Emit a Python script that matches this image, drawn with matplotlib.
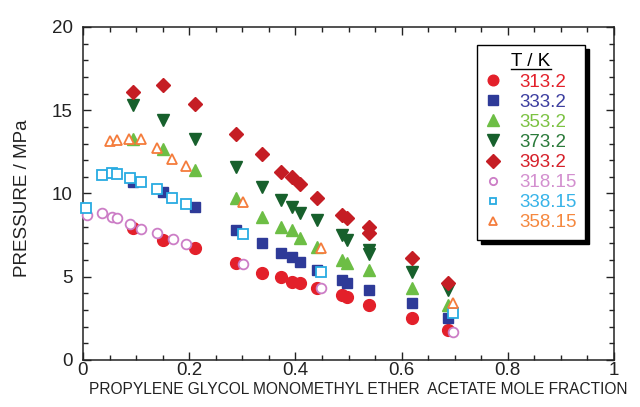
import matplotlib
matplotlib.use('Agg')
import matplotlib.pyplot as plt
from matplotlib.lines import Line2D
from matplotlib.ticker import MultipleLocator

plt.rcParams['font.family'] = ['Liberation Sans', 'DejaVu Sans']

# mole fraction of PGMEA and pressure / MPa
x_313_2 = [0.095, 0.151, 0.211, 0.289, 0.338, 0.373, 0.393, 0.409, 0.440, 0.487, 0.497, 0.539, 0.620, 0.688]
p_313_2 = [7.9, 7.2, 6.7, 5.8, 5.2, 5.0, 4.7, 4.6, 4.3, 3.9, 3.8, 3.3, 2.5, 1.8]

x_333_2 = [0.095, 0.151, 0.211, 0.289, 0.338, 0.373, 0.393, 0.409, 0.440, 0.487, 0.497, 0.539, 0.620, 0.688]
p_333_2 = [10.7, 10.1, 9.2, 7.8, 7.0, 6.4, 6.2, 5.9, 5.4, 4.8, 4.6, 4.2, 3.4, 2.5]

x_353_2 = [0.095, 0.151, 0.211, 0.289, 0.338, 0.373, 0.393, 0.409, 0.440, 0.487, 0.497, 0.539, 0.620, 0.688]
p_353_2 = [13.3, 12.7, 11.4, 9.7, 8.6, 8.0, 7.8, 7.3, 6.8, 6.0, 5.8, 5.4, 4.3, 3.3]

x_373_2 = [0.095, 0.151, 0.211, 0.289, 0.338, 0.373, 0.393, 0.409, 0.440, 0.487, 0.497, 0.539, 0.539, 0.620, 0.688]
p_373_2 = [15.3, 14.4, 13.3, 11.6, 10.4, 9.6, 9.2, 8.8, 8.4, 7.5, 7.2, 6.6, 6.35, 5.3, 4.2]

x_393_2 = [0.095, 0.151, 0.211, 0.289, 0.338, 0.373, 0.393, 0.409, 0.440, 0.487, 0.497, 0.539, 0.539, 0.620, 0.688]
p_393_2 = [16.1, 16.5, 15.4, 13.6, 12.4, 11.3, 11.0, 10.6, 9.7, 8.7, 8.5, 8.0, 7.6, 6.1, 4.6]

x_318_15 = [0.007, 0.035, 0.054, 0.064, 0.089, 0.109, 0.140, 0.169, 0.194, 0.302, 0.448, 0.697]
p_318_15 = [8.7, 8.85, 8.6, 8.5, 8.15, 7.85, 7.6, 7.25, 6.95, 5.75, 4.35, 1.7]

x_338_15 = [0.006, 0.035, 0.054, 0.064, 0.089, 0.109, 0.140, 0.168, 0.194, 0.302, 0.448, 0.697]
p_338_15 = [9.1, 11.1, 11.25, 11.15, 10.95, 10.7, 10.3, 9.75, 9.35, 7.55, 5.3, 2.8]

x_358_15 = [0.051, 0.064, 0.087, 0.109, 0.139, 0.167, 0.194, 0.302, 0.448, 0.696]
p_358_15 = [13.15, 13.2, 13.3, 13.25, 12.75, 12.1, 11.65, 9.5, 6.75, 3.45]

fig = plt.figure(figsize=(6.4, 4.07), dpi=100)
ax = fig.add_axes([83/640, 47/407, 531/640, 333/407])

# filled symbols: this work, open symbols: literature
filled = [
    (x_313_2, p_313_2, 'o', '#e3202a', '#e3202a', 8.5, '313.2'),
    (x_333_2, p_333_2, 's', '#2e3a98', '#3c3ea0', 7.5, '333.2'),
    (x_353_2, p_353_2, '^', '#6dbe45', '#7cc242', 9, '353.2'),
    (x_373_2, p_373_2, 'v', '#17602c', '#2a7a3a', 9, '373.2'),
    (x_393_2, p_393_2, 'D', '#c51d24', '#d6202a', 7.5, '393.2'),
]
opens = [
    (x_318_15, p_318_15, 'o', '#cc7dc6', '#d38fcf', 7, '318.15'),
    (x_338_15, p_338_15, 's', '#29abe2', '#37b3e8', 6.5, '338.15'),
    (x_358_15, p_358_15, '^', '#f47c3c', '#f5883f', 7, '358.15'),
]

handles = []
label_colors = []
for xs, ps, mk, col, tcol, ms, lab in filled:
    ax.plot(xs, ps, linestyle='none', marker=mk, ms=ms, color=col,
            markeredgecolor=col, clip_on=False, zorder=3)
    handles.append(Line2D([], [], linestyle='none', marker=mk, ms=ms * 0.9,
                          color=col, label=lab))
    label_colors.append(tcol)
for xs, ps, mk, col, tcol, ms, lab in opens:
    ax.plot(xs, ps, linestyle='none', marker=mk, ms=ms, markerfacecolor='white',
            markeredgecolor=col, markeredgewidth=1.3, clip_on=False, zorder=4)
    handles.append(Line2D([], [], linestyle='none', marker=mk, ms=ms * 0.75,
                          markerfacecolor='white', markeredgecolor=col,
                          markeredgewidth=1.3, label=lab))
    label_colors.append(tcol)

ax.set_xlim(0, 1)
ax.set_ylim(0, 20)
ax.xaxis.set_major_locator(MultipleLocator(0.2))
ax.xaxis.set_minor_locator(MultipleLocator(0.05))
ax.yaxis.set_major_locator(MultipleLocator(5))
ax.yaxis.set_minor_locator(MultipleLocator(1))
ax.xaxis.set_major_formatter(plt.FuncFormatter(lambda v, p: '%g' % round(v, 2)))
ax.tick_params(which='both', direction='in', top=True, right=True,
               colors='#222222', width=1.0, labelsize=13.5)
ax.tick_params(which='major', length=6)
ax.tick_params(which='minor', length=3.5)
ax.tick_params(axis='x', pad=1.5)
ax.tick_params(axis='y', pad=7.5)
for s in ax.spines.values():
    s.set_linewidth(1.1)
    s.set_color('#222222')

ax.set_xlabel('PROPYLENE GLYCOL MONOMETHYL ETHER  ACETATE MOLE FRACTION',
              fontsize=11.2, color='#222222', va='top')
ax.xaxis.set_label_coords(0.519, -0.066)
ax.set_ylabel('PRESSURE / MPa', fontsize=13.5, color='#222222')
ax.yaxis.set_label_coords(-0.097, 0.486)

leg = ax.legend(handles=handles, loc='upper left',
                bbox_to_anchor=(477/640, 1 - 45/407),
                bbox_transform=fig.transFigure, title='T / K',
                title_fontsize=13.5, fontsize=13.5, labelcolor=label_colors,
                frameon=True, fancybox=False, edgecolor='black', framealpha=1,
                shadow={'color': 'black', 'alpha': 1, 'ox': 3, 'oy': -3},
                handlelength=0.8, handletextpad=1.0, borderpad=0.45,
                labelspacing=0.16, borderaxespad=0)
leg.get_frame().set_linewidth(1.0)

# underline the legend title
fig.canvas.draw()
bb = leg.get_title().get_window_extent()
fig.add_artist(Line2D([bb.x0, bb.x1], [bb.y0 + 1, bb.y0 + 1],
                      transform=None, color='black', linewidth=1.0))

fig.savefig('out.png', dpi=100)
